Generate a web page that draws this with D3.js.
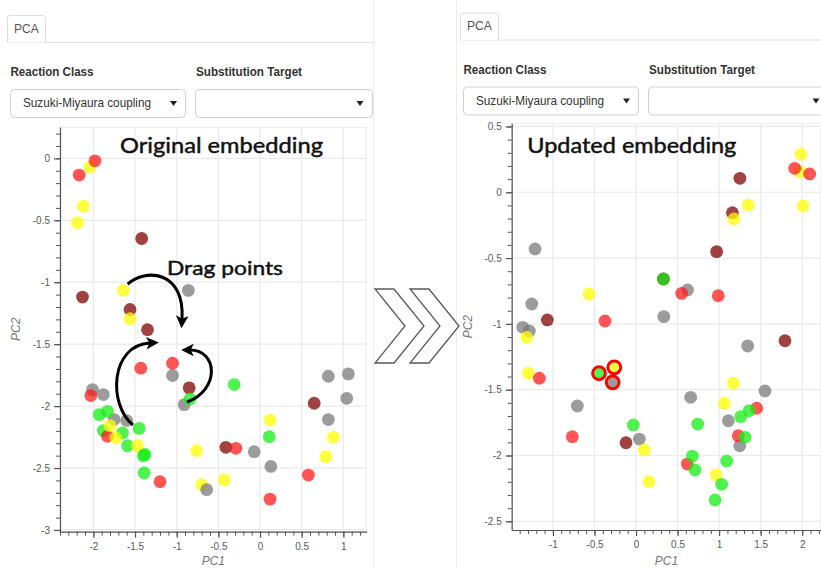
<!DOCTYPE html>
<html><head><meta charset="utf-8">
<script src="https://cdn.jsdelivr.net/npm/d3@7"></script>
<style>body{margin:0;background:#fff}svg{display:block}</style>
</head><body>
<svg id="c" width="821" height="568"></svg>
<script>
// ---------------- DATA ----------------
const classes = ["red","yellow","green","gray","darkred"];
const classColor = {red:"#ff1a1a", yellow:"#ffff00", green:"#11ee11", gray:"#7a7a7a", darkred:"#800000"};

// Original embedding (left)
const origClass = ["yellow","red","red","yellow","yellow","darkred","yellow","gray","darkred","darkred",
  "yellow","darkred","red","gray","red","darkred","gray","green","green","gray",
  "red","gray","gray","gray","green","green","green","red","yellow","green",
  "yellow","green","green","yellow","green","green","green","red","yellow","yellow",
  "gray","yellow","darkred","red","gray","yellow","green","gray","red","red",
  "darkred","gray","gray","gray","gray","yellow","yellow"];
const origPC1 = [-2.04,-1.98,-2.17,-2.12,-2.19,-1.42,-1.64,-0.86,-2.13,-1.56,
  -1.56,-1.35,-1.43,-1.05,-1.05,-0.85,-0.91,-0.84,-0.31,-2.01,
  -2.03,-1.88,-1.75,-1.60,-1.93,-1.83,-1.88,-1.83,-1.80,-1.65,
  -1.73,-1.45,-1.59,-1.47,-1.40,-1.38,-1.39,-1.20,-0.76,-0.70,
  -0.64,-0.43,-0.41,-0.29,-0.07,0.12,0.11,0.13,0.12,0.58,
  0.65,0.82,1.06,1.04,0.82,0.88,0.79];
const origPC2 = [-0.07,-0.02,-0.135,-0.386,-0.52,-0.647,-1.066,-1.066,-1.12,-1.22,
  -1.295,-1.383,-1.694,-1.753,-1.654,-1.853,-1.988,-1.942,-1.826,-1.867,
  -1.915,-1.907,-2.109,-2.117,-2.069,-2.042,-2.198,-2.244,-2.158,-2.217,
  -2.257,-2.18,-2.32,-2.32,-2.40,-2.39,-2.54,-2.61,-2.36,-2.635,
  -2.675,-2.595,-2.333,-2.341,-2.368,-2.112,-2.247,-2.487,-2.751,-2.557,
  -1.977,-1.759,-1.74,-1.937,-2.109,-2.252,-2.408];

// Updated embedding (right)
const updClass = ["yellow","yellow","red","red","yellow","darkred","yellow","darkred","yellow","darkred",
  "red","gray","red","darkred","green","gray","yellow","red","darkred","gray",
  "gray","gray","gray","yellow","yellow","red","gray","red","darkred","gray",
  "green","yellow","yellow","gray","green","red","green","green","yellow","green",
  "green","green","yellow","yellow","gray","gray","gray","red","green","green",
  "gray","red","green","darkred","green","yellow","gray"];
const updPC1 = [1.985,1.97,1.91,2.09,2.01,1.25,1.35,1.16,1.18,0.97,
  0.99,0.62,0.55,0.33,0.33,0.335,-0.566,-0.373,-1.067,-1.215,
  -1.255,-1.363,-1.284,-1.315,-1.296,-1.163,-0.706,-0.766,-0.12,0.04,
  -0.032,0.10,0.156,0.658,0.742,0.617,0.678,0.71,0.963,1.031,
  0.951,1.091,1.171,1.063,1.111,1.344,1.552,1.452,1.363,1.26,
  1.248,1.231,1.312,1.793,-0.445,-0.261,-0.281];
const updPC2 = [0.289,0.157,0.182,0.139,-0.104,0.106,-0.097,-0.155,-0.203,-0.451,
  -0.786,-0.742,-0.768,-0.659,-0.659,-0.945,-0.773,-0.978,-0.97,-0.431,
  -0.849,-1.026,-1.054,-1.102,-1.375,-1.413,-1.624,-1.857,-1.903,-1.875,
  -1.768,-1.958,-2.199,-1.558,-1.761,-2.065,-2.004,-2.11,-2.148,-2.219,
  -2.338,-2.042,-1.451,-1.603,-1.736,-1.168,-1.51,-1.641,-1.659,-1.705,
  -1.926,-1.85,-1.862,-1.128,-1.375,-1.33,-1.444];
const updSelected = [0,0,0,0,0,0,0,0,0,0, 0,0,0,0,0,0,0,0,0,0, 0,0,0,0,0,0,0,0,0,0,
  0,0,0,0,0,0,0,0,0,0, 0,0,0,0,0,0,0,0,0,0, 0,0,0,0,1,1,1];

// tick labels
const leftXTicks = [-2,-1.5,-1,-0.5,0,0.5,1];
const leftXLabels = ["-2","-1.5","-1","-0.5","0","0.5","1"];
const leftYTicks = [0,-0.5,-1,-1.5,-2,-2.5,-3];
const leftYLabels = ["0","-0.5","-1","-1.5","-2","-2.5","-3"];
const rightXTicks = [-1,-0.5,0,0.5,1,1.5,2];
const rightXLabels = ["-1","-0.5","0","0.5","1","1.5","2"];
const rightYTicks = [0.5,0,-0.5,-1,-1.5,-2,-2.5];
const rightYLabels = ["0.5","0","-0.5","-1","-1.5","-2","-2.5"];

// annotation arrows (data coordinates of left plot): start, c1, c2, end
const dragArrows = [
  [[-1.588,-1.015],[-1.38,-0.886],[-0.90,-0.902],[-0.936,-1.300]],
  [[-1.524,-2.153],[-1.824,-1.991],[-1.80,-1.507],[-1.32,-1.491]],
  [[-0.876,-1.967],[-0.48,-1.87],[-0.504,-1.547],[-0.84,-1.547]]
];

// ---------------- DRAW ----------------
const svg = d3.select("#c");
const UI = "'Liberation Sans', Arial, sans-serif";
const ANN = "Lato, 'Open Sans', sans-serif";

const defs = svg.append("defs");
defs.append("marker").attr("id","ah").attr("viewBox","0 0 10 10")
  .attr("refX",3).attr("refY",5).attr("markerWidth",4.4).attr("markerHeight",4.2)
  .attr("orient","auto").append("path").attr("d","M0,0 L10,5 L0,10 L2.5,5 Z").attr("fill","#000");

// panel separators
svg.append("line").attr("x1",373.5).attr("x2",373.5).attr("y1",0).attr("y2",568).attr("stroke","#ededed");
svg.append("line").attr("x1",456.5).attr("x2",456.5).attr("y1",0).attr("y2",568).attr("stroke","#ededed");

function drawUI(ox, oy, lineEnd, arrowX2){
  const g = svg.append("g").attr("transform",`translate(${ox},${oy})`);
  g.append("line").attr("x1",7).attr("x2",lineEnd-ox).attr("y1",42.5).attr("y2",42.5).attr("stroke","#e3e3e3");
  g.append("path").attr("d","M7.5,42.5 V18 Q7.5,15.5 10,15.5 H43 Q45.5,15.5 45.5,18 V42.5")
    .attr("fill","#fff").attr("stroke","#dedede");
  g.append("text").attr("x",14).attr("y",32.5).text("PCA")
    .attr("font-family",UI).attr("font-size",12).attr("fill","#555");
  g.append("text").attr("x",10.5).attr("y",76).text("Reaction Class")
    .attr("font-family",UI).attr("font-size",12).attr("font-weight","bold").attr("fill","#333")
    .attr("textLength",83).attr("lengthAdjust","spacingAndGlyphs");
  g.append("text").attr("x",196).attr("y",76).text("Substitution Target")
    .attr("font-family",UI).attr("font-size",12).attr("font-weight","bold").attr("fill","#333")
    .attr("textLength",106).attr("lengthAdjust","spacingAndGlyphs");
  g.append("rect").attr("x",10.5).attr("y",89.5).attr("width",175).attr("height",28).attr("rx",4)
    .attr("fill","#fff").attr("stroke","#cfcfcf");
  g.append("rect").attr("x",195.5).attr("y",89.5).attr("width",177).attr("height",28).attr("rx",4)
    .attr("fill","#fff").attr("stroke","#cfcfcf");
  g.append("text").attr("x",23).attr("y",107).text("Suzuki-Miyaura coupling")
    .attr("font-family",UI).attr("font-size",12).attr("fill","#333")
    .attr("textLength",128).attr("lengthAdjust","spacingAndGlyphs");
  [173.5, arrowX2].forEach(x=>{
    g.append("path").attr("d",`M${x-3.5},101 L${x+3.5},101 L${x},106 Z`).attr("fill","#222");
  });
}
drawUI(0,0,373,360);
drawUI(453,-2.5,821,363);

// chevrons
[0,35].forEach(dx=>{
  svg.append("polygon")
    .attr("points",[[375,289],[394,289],[424,326],[394,363],[375,363],[405,326]].map(p=>[p[0]+dx,p[1]].join(",")).join(" "))
    .attr("fill","#fff").attr("stroke","#5a5a5a").attr("stroke-width",1.3).attr("stroke-linejoin","miter");
});

function drawPlot(cfg){
  const x = d3.scaleLinear().domain(cfg.xd).range([cfg.x0,cfg.x1]);
  const y = d3.scaleLinear().domain(cfg.yd).range([cfg.y1,cfg.y0]);
  const g = svg.append("g");
  const cid = "clip"+cfg.id;
  defs.append("clipPath").attr("id",cid).append("rect")
    .attr("x",cfg.x0).attr("y",cfg.y0).attr("width",cfg.x1-cfg.x0).attr("height",cfg.y1-cfg.y0);
  g.append("rect").attr("x",cfg.x0).attr("y",cfg.y0+0.5).attr("width",cfg.x1-cfg.x0-0.5).attr("height",cfg.y1-cfg.y0)
    .attr("fill","none").attr("stroke","#ececec");
  g.selectAll(".gx").data(cfg.xt).join("line").attr("x1",d=>x(d)).attr("x2",d=>x(d))
    .attr("y1",cfg.y0).attr("y2",cfg.y1).attr("stroke","#eaeaea").attr("stroke-width",1.2);
  g.selectAll(".gy").data(cfg.yt).join("line").attr("y1",d=>y(d)).attr("y2",d=>y(d))
    .attr("x1",cfg.x0).attr("x2",cfg.x1).attr("stroke","#eaeaea").attr("stroke-width",1.2);
  const minor = (d)=> d3.range(Math.ceil(Math.min(...d)*10), Math.floor(Math.max(...d)*10)+1).map(v=>v/10);
  g.append("g").attr("transform",`translate(0,${cfg.y1})`)
    .call(d3.axisBottom(x).tickValues(minor(cfg.xd)).tickSize(4).tickFormat("").tickSizeOuter(0))
    .call(a=>a.select(".domain").remove()).selectAll("line").attr("stroke","#555");
  g.append("g").attr("transform",`translate(${cfg.x0},0)`)
    .call(d3.axisLeft(y).tickValues(minor(cfg.yd)).tickSize(4).tickFormat("").tickSizeOuter(0))
    .call(a=>a.select(".domain").remove()).selectAll("line").attr("stroke","#555");
  const xa = g.append("g").attr("transform",`translate(0,${cfg.y1})`)
    .call(d3.axisBottom(x).tickValues(cfg.xt).tickSize(6).tickPadding(5).tickSizeOuter(0)
      .tickFormat((d,i)=>cfg.xl[i]));
  const ya = g.append("g").attr("transform",`translate(${cfg.x0},0)`)
    .call(d3.axisLeft(y).tickValues(cfg.yt).tickSize(6).tickPadding(4).tickSizeOuter(0)
      .tickFormat((d,i)=>cfg.yl[i]));
  [xa,ya].forEach(a=>{
    a.select(".domain").attr("stroke","#555").attr("stroke-width",1.2);
    a.selectAll("line").attr("stroke","#555").attr("stroke-width",1.2);
    a.selectAll("text").attr("font-family",UI).attr("font-size",10).attr("fill","#5a5a5a");
  });
  g.append("text").attr("x",(cfg.x0+cfg.x1)/2).attr("y",565).attr("text-anchor","middle")
    .attr("font-family",UI).attr("font-size",12).attr("font-style","italic").attr("fill","#777").text("PC1");
  g.append("text").attr("transform",`translate(${cfg.x0-40},${(cfg.y0+cfg.y1)/2}) rotate(-90)`)
    .attr("text-anchor","middle").attr("font-family",UI).attr("font-size",12).attr("font-style","italic")
    .attr("fill","#777").text("PC2");
  const pts = cfg.px.map((v,i)=>({x:v,y:cfg.py[i],c:cfg.pc[i],s:cfg.sel?cfg.sel[i]:0}));
  const pg = g.append("g").attr("clip-path",`url(#${cid})`);
  pg.selectAll("circle").data(pts).join("circle")
    .attr("cx",d=>x(d.x)).attr("cy",d=>y(d.y)).attr("r",6.4)
    .attr("fill",d=>classColor[d.c]).attr("fill-opacity",0.74)
    .attr("stroke",d=>d.s?"#ff0000":"none").attr("stroke-width",d=>d.s?3:0);
  return {x,y,g};
}

const L = drawPlot({id:"L", xd:[-2.4,1.28], yd:[-3.014,0.253], x0:60, x1:366.7, y0:127, y1:531.7,
  xt:leftXTicks, xl:leftXLabels, yt:leftYTicks, yl:leftYLabels, px:origPC1, py:origPC2, pc:origClass});
const R = drawPlot({id:"R", xd:[-1.496,2.23], yd:[-2.566,0.524], x0:511.7, x1:821.3, y0:123.3, y1:530,
  xt:rightXTicks, xl:rightXLabels, yt:rightYTicks, yl:rightYLabels, px:updPC1, py:updPC2, pc:updClass, sel:updSelected});

// annotations
function ann(P, dx, dy, txt, size, len){
  P.g.append("text").attr("x",P.x(dx)).attr("y",P.y(dy)).text(txt)
    .attr("font-family",ANN).attr("font-size",size).attr("fill","#111")
    .attr("stroke","#111").attr("stroke-width",0.45)
    .attr("textLength",len).attr("lengthAdjust","spacingAndGlyphs");
}
ann(L,-1.68,0.043,"Original embedding",21,203);
ann(L,-1.116,-0.942,"Drag points",19,116);
ann(R,-1.308,0.301,"Updated embedding",21,209);

dragArrows.forEach(a=>{
  const p = a.map(q=>[L.x(q[0]),L.y(q[1])]);
  L.g.append("path")
    .attr("d",`M${p[0]} C${p[1]} ${p[2]} ${p[3]}`)
    .attr("fill","none").attr("stroke","#000").attr("stroke-width",3).attr("marker-end","url(#ah)");
});
</script>
</body></html>
